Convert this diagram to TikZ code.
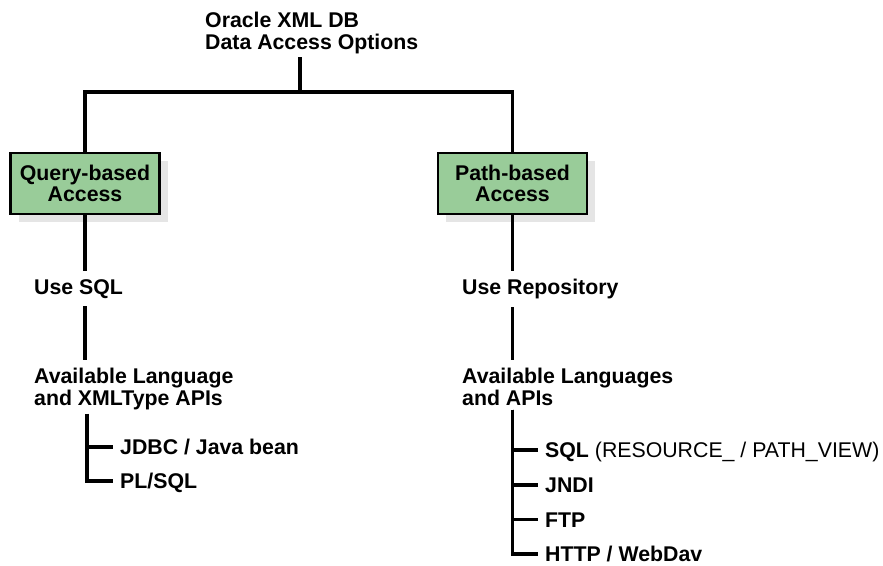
\documentclass[tikz,border=0pt]{standalone}
\usepackage{fontspec}
\setmainfont{Liberation Sans}
\usetikzlibrary{shadows}
\definecolor{boxgreen}{RGB}{153,204,153}
\definecolor{shadowgray}{RGB}{229,229,229}
\tikzset{
  conn/.style={line width=3.2pt},
  lbl/.style={font=\fontsize{21.3}{22}\selectfont\bfseries, align=left, anchor=north west, inner xsep=0pt, inner ysep=8pt},
  item/.style={font=\fontsize{21.3}{22}\selectfont\bfseries, anchor=west, inner xsep=7pt, inner ysep=0pt, text height=15pt, text depth=0pt},
  accbox/.style={draw, line width=2.5pt, fill=boxgreen, minimum width=149pt, minimum height=61pt, align=center, inner sep=0pt,
    font=\fontsize{21.3}{21}\selectfont\bfseries,
    drop shadow={shadow xshift=8pt, shadow yshift=-8pt, fill=shadowgray, opacity=1}},
}
\begin{document}
\begin{tikzpicture}[x=1pt,y=-1pt]
\useasboundingbox (0,0) rectangle (883,565);
% title
\node[lbl, inner ysep=0pt] (title) at (205,12) {Oracle XML DB\\Data Access Options};
\coordinate (bar) at (300,92);
% boxes
\node[accbox] (qa) at (85,183.5) {Query-based\\Access};
\node[accbox] (pa) at (512.5,183.5) {Path-based\\Access};
\draw[conn] (title.south -| bar) ++(0,3) -- (bar);
\draw[conn, line join=miter] (qa.north) |- (bar) -| (pa.north);
% left column
\node[lbl] (usesql) at (34,271) {Use SQL};
\node[lbl] (avl) at (34,360) {Available Language\\and XMLType APIs};
\node[item] (jdbc) at (113,447) {JDBC / Java bean};
\node[item] (plsql) at (113,481) {PL/SQL};
\draw[conn] (qa.south) -- (qa.south |- usesql.north);
\draw[conn] (qa.south |- usesql.south) -- (qa.south |- avl.north);
\path (qa.south |- avl.south) ++(2,-4.5) coordinate (lt);
\draw[conn, line join=miter] (lt) |- (jdbc.west);
\draw[conn, line join=miter] (lt) |- (plsql.west);
% right column
\node[lbl] (userep) at (462,271) {Use Repository};
\node[lbl] (avr) at (462,360) {Available Languages\\and APIs};
\node[item] (sqlv) at (538,450) {SQL \mdseries(RESOURCE\_ / PATH\_VIEW)};
\node[item] (jndi) at (538,485) {JNDI};
\node[item] (ftp) at (538,519.5) {FTP};
\node[item] (http) at (538,554) {HTTP / WebDav};
\draw[conn] (pa.south) -- (pa.south |- userep.north);
\draw[conn] (pa.south |- userep.south) -- (pa.south |- avr.north);
\path (pa.south |- avr.south) ++(0,-4.5) coordinate (rt);
\draw[conn, line join=miter] (rt) |- (sqlv.west);
\draw[conn, line join=miter] (rt) |- (jndi.west);
\draw[conn, line join=miter] (rt) |- (ftp.west);
\draw[conn, line join=miter] (rt) |- (http.west);
\end{tikzpicture}
\end{document}
